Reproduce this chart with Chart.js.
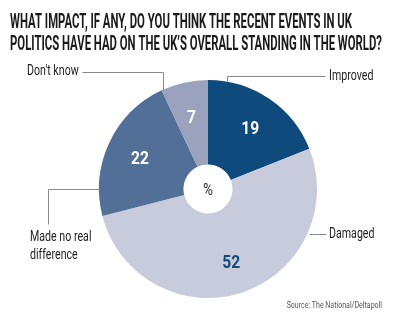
<!DOCTYPE html>
<html>
<head>
<meta charset="utf-8">
<script src="https://cdn.jsdelivr.net/npm/chart.js@4"></script>
<style>
  html, body { margin: 0; padding: 0; background: #fff; }
  #wrap { width: 400px; height: 321px; position: relative; }
</style>
</head>
<body>
<div id="wrap"><canvas id="impactChart" width="400" height="321"></canvas></div>
<script>
const categories = ['Improved', 'Damaged', 'Made no real difference', "Don't know"];
const values = [19, 52, 22, 7];
const sliceColors = ['#0e4a7b', '#c8cbdb', '#516f97', '#9aa2be'];
const numberColors = ['#ffffff', '#0e4a7b', '#ffffff', '#ffffff'];
const titleLines = [
    'WHAT IMPACT, IF ANY, DO YOU THINK THE RECENT EVENTS IN UK',
    'POLITICS HAVE HAD ON THE UK\u2019S OVERALL STANDING IN THE WORLD?'
];
const sourceText = 'Source: The National/Deltapoll';

// label text lines + leader lines (annotation layout)
const calloutLayout = [
    { lines: ['Improved'], x: 329, y: 80, line: [[325, 76], [227, 76], [227, 81]] },
    { lines: ['Damaged'], x: 329, y: 238, line: [[326, 234], [309, 234]] },
    { lines: ['Made no real', 'difference'], x: 30, y: 241, line: [[48, 224], [48, 189], [99, 189]] },
    { lines: ["Don't know"], x: 27, y: 75, line: [[82, 72], [163, 72], [163, 90]] }
];

function squeezedText(ctx, text, x, y, font, color, sx, align) {
    ctx.save();
    ctx.font = font;
    ctx.fillStyle = color;
    ctx.textBaseline = 'alphabetic';
    ctx.textAlign = align || 'left';
    ctx.translate(x, y);
    ctx.scale(sx, 1);
    ctx.fillText(text, 0, 0);
    ctx.restore();
}

const annotations = {
    id: 'annotations',
    afterDraw(chart) {
        const ctx = chart.ctx;
        const titleFont = 'bold 21px Roboto';
        ctx.font = titleFont;
        const sx = 372 / ctx.measureText(titleLines[1]).width;
        squeezedText(ctx, titleLines[0], 10, 28, titleFont, '#1a1a1a', sx);
        squeezedText(ctx, titleLines[1], 10, 50, titleFont, '#1a1a1a', sx);

        ctx.save();
        ctx.strokeStyle = '#8a8a8a';
        ctx.lineWidth = 1;
        calloutLayout.forEach(c => {
            ctx.beginPath();
            c.line.forEach((p, i) => {
                if (i === 0) ctx.moveTo(p[0] + 0.5, p[1] + 0.5);
                else ctx.lineTo(p[0] + 0.5, p[1] + 0.5);
            });
            ctx.stroke();
            c.lines.forEach((t, i) => {
                squeezedText(ctx, t, c.x, c.y + i * 18, '14px Roboto', '#222', 0.76);
            });
        });
        ctx.restore();

        const meta = chart.getDatasetMeta(0);
        meta.data.forEach((arc, i) => {
            const p = arc.getProps(['x', 'y', 'startAngle', 'endAngle', 'innerRadius', 'outerRadius'], true);
            const mid = (p.startAngle + p.endAngle) / 2;
            const r = p.innerRadius + 0.6 * (p.outerRadius - p.innerRadius);
            const tx = p.x + Math.cos(mid) * r;
            const ty = p.y + Math.sin(mid) * r;
            squeezedText(ctx, String(values[i]), tx, ty + 7, 'bold 19px Roboto', numberColors[i], 0.82, 'center');
        });

        const c0 = meta.data[0];
        squeezedText(ctx, '%', c0.x, c0.y + 6, '17px Roboto', '#333', 0.8, 'center');

        squeezedText(ctx, sourceText, 382, 308, '9px Roboto', '#555', 0.78, 'right');
    }
};

const ctx = document.getElementById('impactChart').getContext('2d');
new Chart(ctx, {
    type: 'doughnut',
    data: {
        labels: categories,
        datasets: [{
            data: values,
            backgroundColor: sliceColors,
            borderWidth: 0
        }]
    },
    options: {
        responsive: false,
        animation: false,
        cutout: '22.5%',
        layout: { padding: { top: 80, bottom: 23, left: 99, right: 83 } },
        plugins: {
            legend: { display: false },
            tooltip: { enabled: false },
            title: { display: false }
        }
    },
    plugins: [annotations]
});
</script>
</body>
</html>
